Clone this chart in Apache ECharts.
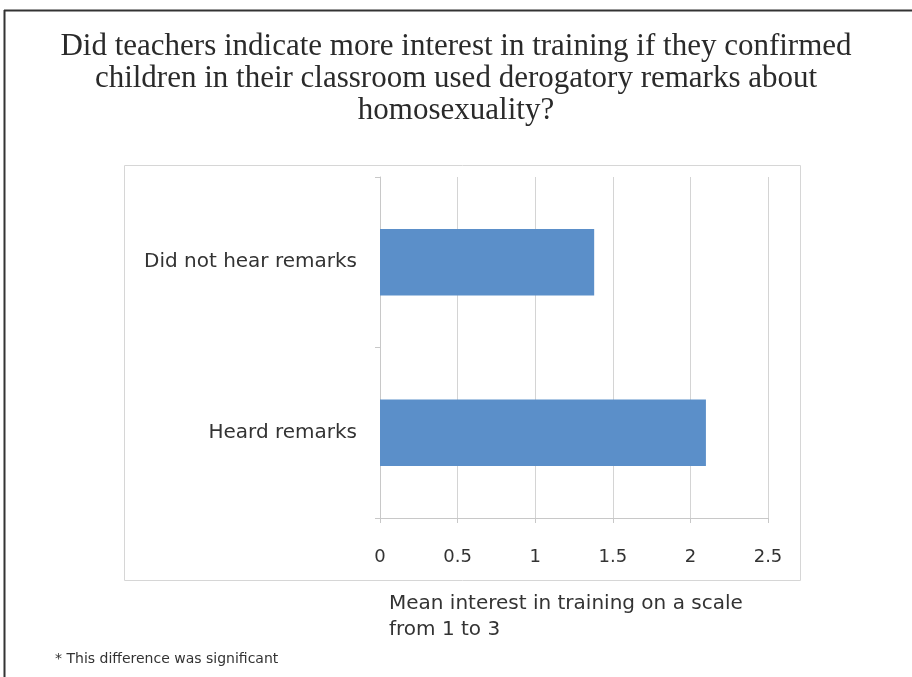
<!DOCTYPE html>
<html><head><meta charset="utf-8">
<script src="https://cdn.jsdelivr.net/npm/echarts@6/dist/echarts.min.js"></script>
<style>html,body{margin:0;padding:0;background:#fff}#c{width:912px;height:677px}</style>
</head><body><div id="c"></div>
<script>
const categories = ['Heard remarks', 'Did not hear remarks'];
const values = [2.10, 1.38];
const xTicks = [0, 0.5, 1, 1.5, 2, 2.5];
const titleText = 'Did teachers indicate more interest in training if they confirmed\nchildren in their classroom used derogatory remarks about\nhomosexuality?';
const axisTitle = 'Mean interest in training on a scale\nfrom 1 to 3';
const footnote = '* This difference was significant';

const chart = echarts.init(document.getElementById('c'), null, {renderer: 'canvas'});
const sans = 'DejaVu Sans, sans-serif';
chart.setOption({
  animation: false,
  backgroundColor: '#fff',
  title: {
    text: titleText, left: 'center', top: 26,
    textStyle: {fontFamily: 'Liberation Serif, serif', fontWeight: 'normal', fontSize: 31, color: '#2a2a2a', lineHeight: 32, align: 'center'}
  },
  grid: {left: 380, right: 144, top: 177, bottom: 159, containLabel: false},
  xAxis: {
    type: 'value', min: 0, max: 2.5, interval: 0.5,
    axisLine: {show: true, lineStyle: {color: '#c8c8c8', width: 1}},
    axisTick: {show: true, length: 5, lineStyle: {color: '#c8c8c8'}},
    splitLine: {show: true, lineStyle: {color: '#d4d4d4', width: 1}},
    axisLabel: {margin: 30, fontSize: 18, color: '#333', fontFamily: sans,
      formatter: v => String(xTicks.find(t => Math.abs(t - v) < 1e-9) ?? v)}
  },
  yAxis: {
    type: 'category', data: categories,
    axisLine: {show: true, lineStyle: {color: '#c8c8c8', width: 1}},
    axisTick: {show: true, length: 5, lineStyle: {color: '#c8c8c8'}},
    axisLabel: {margin: 23, fontSize: 20, color: '#333', fontFamily: sans}
  },
  series: [{
    type: 'bar', data: values, barWidth: '39%',
    itemStyle: {color: '#5b8fc9'}
  }],
  graphic: [
    {type: 'rect', shape: {x: 124.5, y: 165.5, width: 676, height: 415}, style: {fill: 'none', stroke: '#d6d6d6', lineWidth: 1}, z: -1},
    {type: 'line', shape: {x1: 4, y1: 10.5, x2: 912, y2: 10.5}, style: {stroke: '#333', lineWidth: 2}},
    {type: 'line', shape: {x1: 4.5, y1: 10, x2: 4.5, y2: 677}, style: {stroke: '#333', lineWidth: 2}},
    {type: 'text', left: 389, top: 591, style: {text: axisTitle, font: '20px ' + sans, fill: '#333', lineHeight: 26}},
    {type: 'text', left: 55, top: 652, style: {text: footnote, font: '14px ' + sans, fill: '#333'}}
  ]
});
</script></body></html>
